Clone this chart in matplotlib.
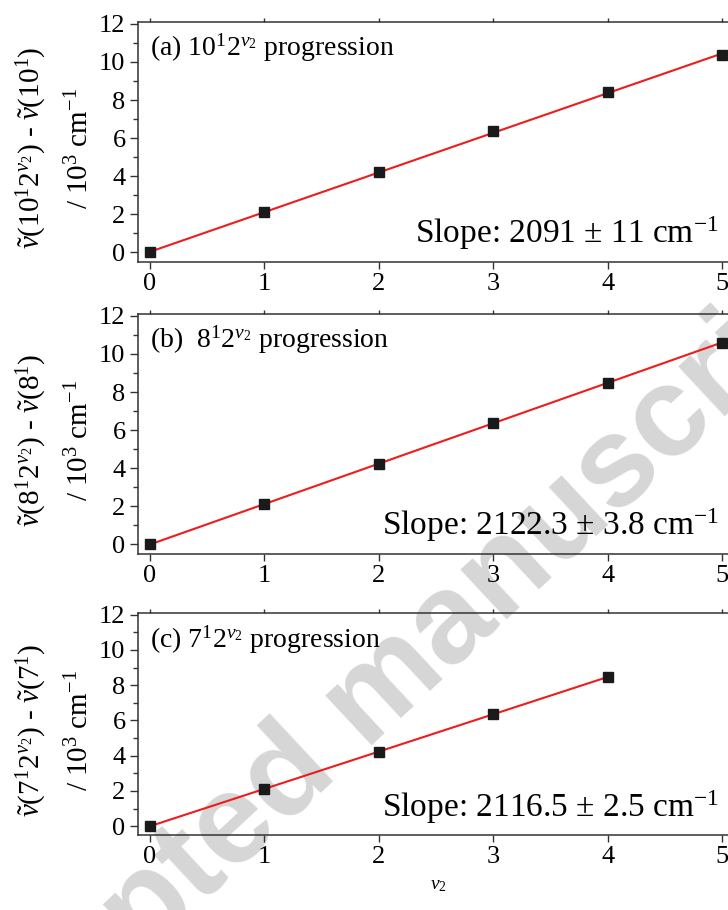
import matplotlib.pyplot as plt
import matplotlib.transforms as mtransforms
import numpy as np

plt.rcParams['font.family'] = 'Liberation Serif'
plt.rcParams['mathtext.fontset'] = 'custom'
plt.rcParams['mathtext.rm'] = 'Liberation Serif'
plt.rcParams['mathtext.it'] = 'Liberation Serif:italic'

# data (term values in 10^3 cm^-1)
v2_a = [0, 1, 2, 3, 4, 5]
term_a = [0.0, 2.10, 4.21, 6.37, 8.42, 10.35]
v2_b = [0, 1, 2, 3, 4, 5]
term_b = [0.0, 2.12, 4.24, 6.38, 8.48, 10.60]
v2_c = [0, 1, 2, 3, 4]
term_c = [0.0, 2.12, 4.23, 6.35, 8.47]

panel_titles = [r'(a) 10$^{1}$2$^{v_2}$ progression',
                r'(b)  8$^{1}$2$^{v_2}$ progression',
                r'(c) 7$^{1}$2$^{v_2}$ progression']
ylabels = [r'$\tilde{v}$(10$^{1}$2$^{v_2}$) - $\tilde{v}$(10$^{1}$)',
           r'$\tilde{v}$(8$^{1}$2$^{v_2}$) - $\tilde{v}$(8$^{1}$)',
           r'$\tilde{v}$(7$^{1}$2$^{v_2}$) - $\tilde{v}$(7$^{1}$)']
slope_texts = [r'Slope: 2091 ± 11 cm$^{-1}$',
               r'Slope: 2122.3 ± 3.8 cm$^{-1}$',
               r'Slope: 2116.5 ± 2.5 cm$^{-1}$']

W, H = 728, 910
fig = plt.figure(figsize=(W / 100, H / 100), dpi=100)
fig.patch.set_facecolor('white')

# watermark behind everything
fig.text(372 / W, 1 - 700 / H, 'Accepted manuscript', rotation=43,
         ha='center', va='center', fontsize=92, fontweight='bold',
         family='Liberation Sans', color='#d6d6d6', zorder=-5)

# axes boxes in pixels: (top, bottom)
boxes = [(22, 262), (314, 554), (613, 835)]
left_px = 138
px_per_unit = 114.4
xmin, xmax = -0.105, 5.5
width = (xmax - xmin) * px_per_unit / W

series = [(v2_a, term_a), (v2_b, term_b), (v2_c, term_c)]
title_y = [0.862, 0.858, 0.842]

for i, ((top, bot), (x, y)) in enumerate(zip(boxes, series)):
    ax = fig.add_axes([left_px / W, 1 - bot / H, width, (bot - top) / H])
    ax.set_facecolor('none')
    x = np.array(x)
    y = np.array(y)
    k, b = np.polyfit(x, y, 1)
    ax.plot(x, k * x + b, color='#ee1c1c', lw=1.5, zorder=2)
    ax.plot(x, y, 's', color='#1a1a1a', ms=6.5, zorder=3)
    ax.set_xlim(xmin, xmax)
    ax.set_ylim(-0.5, 12.1)
    ax.set_xticks(range(6))
    ax.set_yticks(range(0, 13, 2))
    ax.set_yticks(range(1, 13, 2), minor=True)
    ax.tick_params(axis='both', which='major', labelsize=19, direction='out',
                   width=1, color='#333333')
    ax.tick_params(axis='x', which='major', length=5, pad=3, top=True)
    ax.tick_params(axis='y', which='major', length=6, pad=3)
    ax.tick_params(axis='y', which='minor', length=3.5, width=1,
                   direction='out', color='#333333')
    for t in ax.xaxis.get_major_ticks():
        t.tick2line.set_markersize(3)
    for s in ax.spines.values():
        s.set_linewidth(1.1)
        s.set_color('#333333')

    blend = mtransforms.blended_transform_factory(ax.transData, ax.transAxes)
    ax.text(0.0, title_y[i], panel_titles[i], transform=blend,
            ha='left', va='baseline', fontsize=20)
    ax.text(4.97, 0.08, slope_texts[i], transform=blend,
            ha='right', va='baseline', fontsize=24)

    yc = 1 - ((top + bot) / 2 + 6) / H
    fig.text(32 / W, yc, ylabels[i], rotation=90, ha='center', va='center', fontsize=21)
    fig.text(80 / W, yc, r'/ 10$^{3}$ cm$^{-1}$', rotation=90, ha='center', va='center', fontsize=21)

fig.text(438 / W, 1 - 885 / H, r'$v_2$', ha='center', va='center', fontsize=14)

fig.savefig('out.png', dpi=100)
